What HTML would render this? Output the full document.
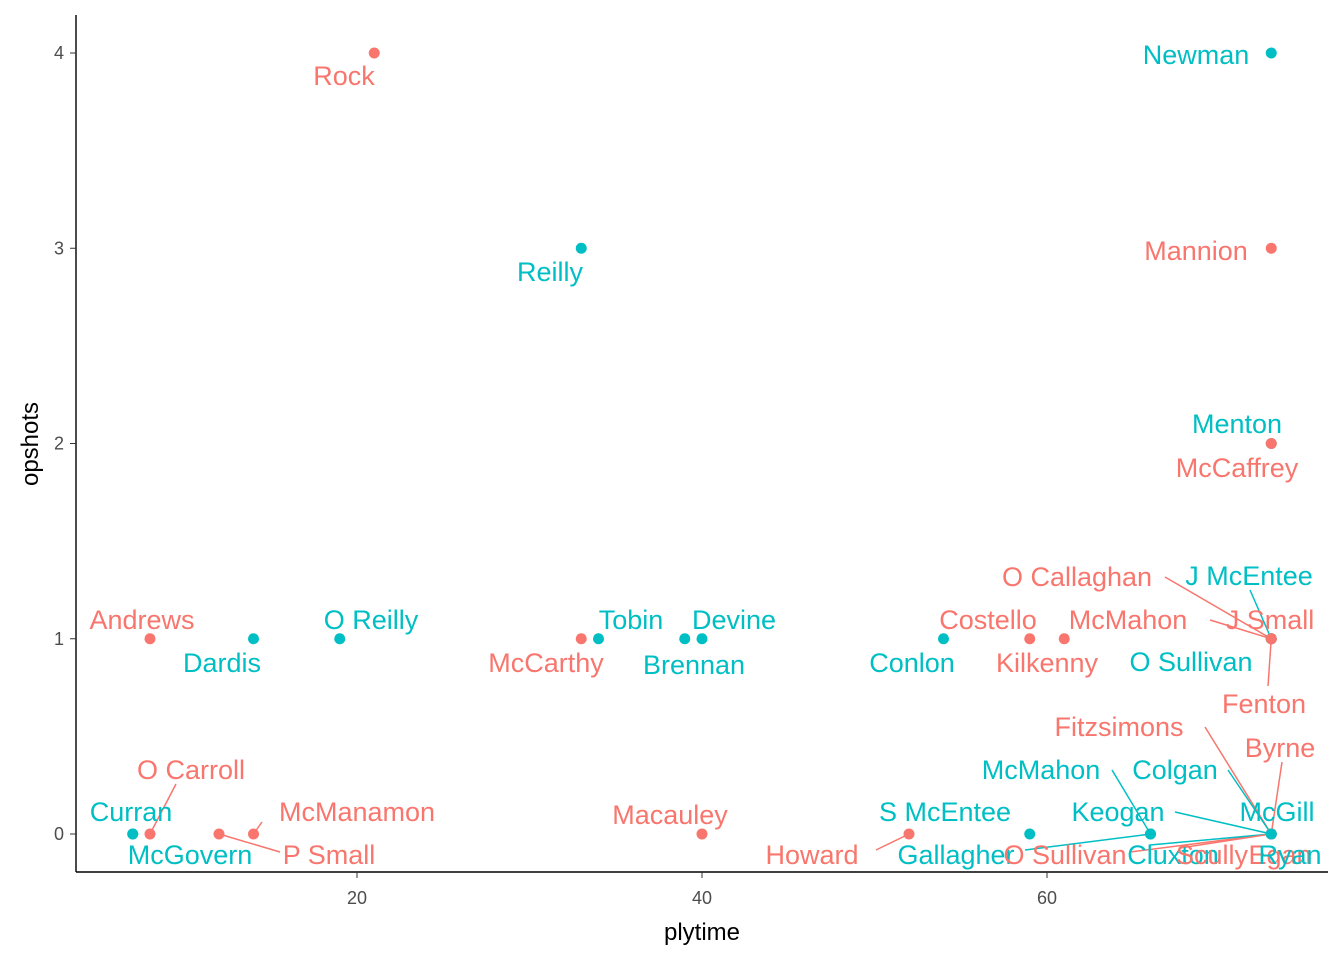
<!DOCTYPE html>
<html><head><meta charset="utf-8"><style>
body{margin:0;background:#fff;}
svg{display:block;font-family:"Liberation Sans",Arial,sans-serif;}
</style></head><body>
<svg id="chart" width="1344" height="960"></svg>
<script>
const names=["Rock","Newman","Reilly","Mannion","Menton","McCaffrey","Andrews","Dardis","O Reilly","McCarthy","Tobin","Brennan","Devine","Conlon","Costello","Kilkenny","McMahon","O Callaghan","J McEntee","J Small","O Sullivan","Fenton","Fitzsimons","Byrne","McMahon","Colgan","Keogan","McGill","Gallagher","O Sullivan","Cluxton","Scully","Egan","Ryan","S McEntee","Howard","Macauley","Curran","O Carroll","McGovern","P Small","McManamon"];
const plytime=[21,73,33,73,73,73,8,14,19,33,34,39,40,54,59,61,73,73,73,73,73,73,73,73,66,73,73,73,66,73,73,73,73,73,59,52,40,7,8,7,12,14];
const opshots=[4,4,3,3,2,2,1,1,1,1,1,1,1,1,1,1,1,1,1,1,1,1,0,0,0,0,0,0,0,0,0,0,0,0,0,0,0,0,0,0,0,0];
const group=[0,1,1,0,1,0,0,1,1,0,1,1,1,1,0,0,0,0,1,0,1,0,0,0,1,1,1,1,1,0,1,0,0,1,1,0,0,1,0,1,0,0];
// label layout (pixel centre of text) and optional segment end
const lab=[[344,76],[1196,55],[550,272],[1196,251],[1237,424],[1237,468],[142,620],[222,663],[371,620],[546,663],[631,620],[694,665],[734,620],[912,663],[988,620],[1047,663],[1128,620],[1077,577],[1249,576],[1270,620],[1191,662],[1264,704],[1119,727],[1280,748],[1041,770],[1175,770],[1118,812],[1277,812],[956,855],[1065,855],[1173,855],[1212,855],[1280,855],[1290,855],[945,812],[812,855],[670,815],[131,812],[191,770],[190,855],[329,855],[357,812]];
const seg={16:[1210,620],17:[1165,577],18:[1250,590],21:[1268,686],22:[1205,727],23:[1282,762],24:[1112,770],25:[1228,770],26:[1175,812],28:[1025,850],29:[1130,852],30:[1150,845],31:[1180,848],35:[876,850],38:[176,784],40:[280,852],41:[262,822]};
const cols=["#F8766D","#00BFC4"];
const X=v=>12+v*17.25, Y=v=>834-v*195.25;
const svg=document.getElementById('chart');const NS="http://www.w3.org/2000/svg";
function mk(t,a,p){const e=document.createElementNS(NS,t);for(const k in a)e.setAttribute(k,a[k]);(p||svg).appendChild(e);return e;}
let ax=mk('line',{x1:76,y1:15,x2:76,y2:872,stroke:'#000','stroke-width':1.4});


ax=mk('line',{x1:76,y1:872,x2:1328,y2:872,stroke:'#000','stroke-width':1.4});


const xt=[20,40,60],yt=[0,1,2,3,4];
xt.forEach(v=>{mk('line',{x1:X(v),x2:X(v),y1:872,y2:878,stroke:'#333'});
 const t=mk('text',{x:X(v),y:904,'text-anchor':'middle','font-size':18,fill:'#4d4d4d'});t.textContent=v;
 
 });
yt.forEach(v=>{mk('line',{x1:70,x2:76,y1:Y(v),y2:Y(v),stroke:'#333'});
 const t=mk('text',{x:64,y:Y(v)+6,'text-anchor':'end','font-size':18,fill:'#4d4d4d'});t.textContent=v;
 
 });
let t=mk('text',{x:702,y:940,'text-anchor':'middle','font-size':24});t.textContent='plytime';


t=mk('text',{x:38,y:444,'text-anchor':'middle','font-size':24,transform:'rotate(-90 38 444)'});t.textContent='opshots';


names.forEach((n,i)=>{const c=cols[group[i]];
 if(seg[i]){const s=mk('line',{x1:X(plytime[i]),y1:Y(opshots[i]),x2:seg[i][0],y2:seg[i][1],stroke:c,'stroke-width':1.5});
  
  }
 const p=mk('circle',{cx:X(plytime[i]),cy:Y(opshots[i]),r:5.5,fill:c});
 
 });
names.forEach((n,i)=>{const l=mk('text',{x:lab[i][0],y:lab[i][1]+9,'text-anchor':'middle','font-size':27,fill:cols[group[i]]});l.textContent=n;
 
 });
</script>
</body></html>
